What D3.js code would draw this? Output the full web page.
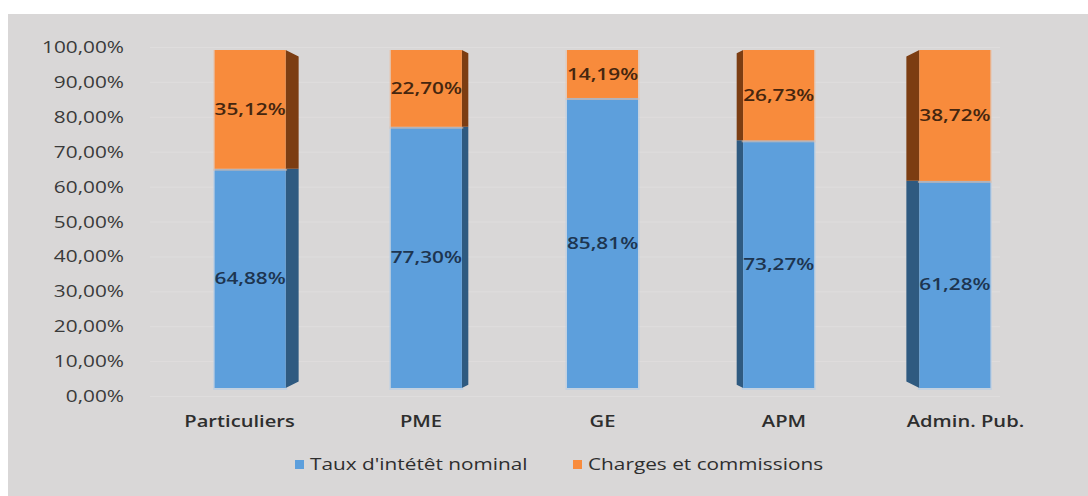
<!DOCTYPE html>
<html>
<head>
<meta charset="utf-8">
<script src="https://cdn.jsdelivr.net/npm/d3@7"></script>
<style>
  body { margin: 0; background: #fff; }
  text { font-family: "Open Sans", sans-serif; }
</style>
</head>
<body>
<svg width="1088" height="496"></svg>
<script>
// chart values
var categories = ["Particuliers", "PME", "GE", "APM", "Admin. Pub."];
var tauxNominal = [64.88, 77.30, 85.81, 73.27, 61.28];
var charges = [35.12, 22.70, 14.19, 26.73, 38.72];
var seriesNames = ["Taux d'intétêt nominal", "Charges et commissions"];
var yTicks = [0, 10, 20, 30, 40, 50, 60, 70, 80, 90, 100];

var svg = d3.select("svg");
var fr = d3.formatLocale({decimal: ",", thousands: " ", grouping: [3], currency: ["", "€"]});
var fmt = function(v) { return fr.format(".2f")(v) + "%"; };

// colours: front, side
var colors = {
  taux: {front: "#5d9fdc", side: "#2f5a80", label: "#1d3550"},
  charges: {front: "#f88b3c", side: "#7c3d12", label: "#45260f"}
};
var sx = 1.3; // text in the picture is stretched sideways

// background panel
svg.append("rect").attr("x", 8).attr("y", 14).attr("width", 1080).attr("height", 482)
  .attr("fill", "#d9d7d7");

// scales: axis scale, and the slightly shorter 3D bar scale
var y = d3.scaleLinear().domain([0, 100]).range([396, 47]);
var yBar = d3.scaleLinear().domain([0, 100]).range([388, 50]);
var x = d3.scalePoint().domain(categories).range([162, 1043]).padding(0.5);
var barW = 71;
var midX = x(categories[2]);

function stretchText(parent, px, py, anchor, str, size, color, weight) {
  var g = parent.append("g").attr("transform", "translate(" + px + "," + py + ") scale(" + sx + ",1)");
  g.append("text").attr("text-anchor", anchor).attr("font-size", size)
    .attr("fill", color).attr("font-weight", weight || 400).text(str);
  return g;
}

// gridlines
svg.append("g").selectAll("line").data(yTicks).join("line")
  .attr("x1", 150).attr("x2", 1000)
  .attr("y1", function(d) { return y(d) + 0.5; }).attr("y2", function(d) { return y(d) + 0.5; })
  .attr("stroke", "#dfdddd").attr("stroke-width", 1);

// y axis labels
var yAxis = svg.append("g");
yTicks.forEach(function(t) {
  stretchText(yAxis, 124, y(t) + 6, "end", fmt(t), 16, "#3a3a3a");
});

// stacked data
var rows = categories.map(function(c, i) { return {cat: c, taux: tauxNominal[i], charges: charges[i]}; });
var stack = d3.stack().keys(["taux", "charges"])(rows);

var bars = svg.append("g");
stack.forEach(function(layer) {
  var key = layer.key;
  layer.forEach(function(seg, i) {
    var cx = x(categories[i]);
    var x0 = cx - barW / 2;
    var yt = yBar(seg[1]), yb = yBar(seg[0]);
    var side = (cx - midX) * -0.037; // >0 : right side face, <0 : left side face
    // light halo round the column
    bars.append("rect")
      .attr("x", x0 - 1.5).attr("y", yt).attr("width", barW + 3).attr("height", yb - yt + 2)
      .attr("fill", key == "taux" ? "#b4cde6" : "#e8c2a8").attr("opacity", 0.6);
    // side face
    if (Math.abs(side) > 1) {
      var ex = side > 0 ? x0 + barW : x0;
      var s = side;
      var topIn = key == "charges" ? Math.abs(s) * 0.5 : 0;
      var botIn = key == "taux" ? Math.abs(s) * 0.5 : 0;
      bars.append("polygon")
        .attr("points", [
          [ex, yt], [ex + s, yt + topIn], [ex + s, yb - botIn], [ex, yb]
        ].map(function(p) { return p.join(","); }).join(" "))
        .attr("fill", colors[key].side);
    }
    bars.append("rect")
      .attr("x", x0).attr("y", yt).attr("width", barW).attr("height", yb - yt)
      .attr("fill", colors[key].front);
  });
});

// data labels
var labels = svg.append("g");
stack.forEach(function(layer) {
  layer.forEach(function(seg, i) {
    var cx = x(categories[i]);
    var ym = (yBar(seg[0]) + yBar(seg[1])) / 2;
    stretchText(labels, cx, ym + 6, "middle", fmt(seg.data[layer.key]), 16,
      colors[layer.key].label, 600);
  });
});

// category labels
var xAxis = svg.append("g");
categories.forEach(function(c) {
  var cx = x(c) + (x(c) - midX) * 0.03;
  stretchText(xAxis, cx, 427, "middle", c, 15.5, "#2e2e2e", 600);
});

// legend
var legend = svg.append("g");
var legendItems = [
  {name: seriesNames[0], color: colors.taux.front, x: 295},
  {name: seriesNames[1], color: colors.charges.front, x: 573}
];
legendItems.forEach(function(it) {
  legend.append("rect").attr("x", it.x).attr("y", 460).attr("width", 9).attr("height", 9)
    .attr("fill", it.color);
  stretchText(legend, it.x + 15, 470, "start", it.name, 16, "#2e2e2e", 400);
});
</script>
</body>
</html>
